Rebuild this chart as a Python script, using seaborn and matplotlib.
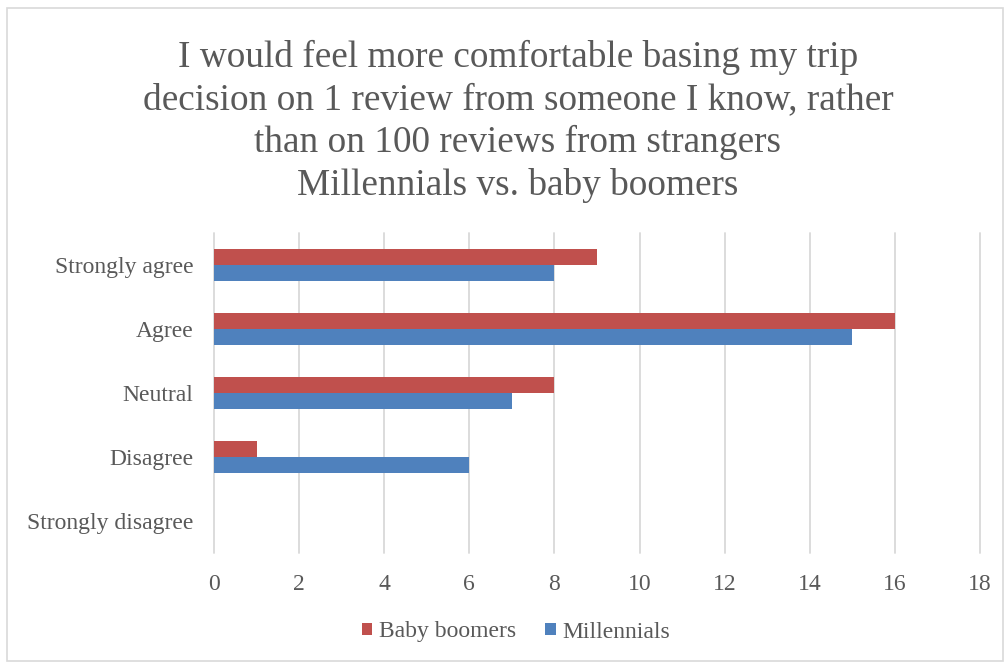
import matplotlib
matplotlib.use("Agg")
import matplotlib.pyplot as plt
import seaborn as sns
import pandas as pd
from matplotlib.patches import Rectangle, Patch

categories = ["Strongly agree", "Agree", "Neutral", "Disagree", "Strongly disagree"]
baby_boomers = [9, 16, 8, 1, 0]
millennials = [8, 15, 7, 6, 0]
series_names = ["Baby boomers", "Millennials"]
x_ticks = [0, 2, 4, 6, 8, 10, 12, 14, 16, 18]
title = ("I would feel more comfortable basing my trip\n"
         "decision on 1 review from someone I know, rather\n"
         "than on 100 reviews from strangers\n"
         "Millennials vs. baby boomers")

colors = {"Baby boomers": "#C0504D", "Millennials": "#4F81BD"}
text_color = "#595959"
grid_color = "#D9D9D9"

df = pd.DataFrame({
    "category": categories * 2,
    "series": [series_names[0]] * len(categories) + [series_names[1]] * len(categories),
    "value": baby_boomers + millennials,
})

sns.set_theme(style="white")
plt.rcParams["font.family"] = ["Liberation Serif", "DejaVu Serif"]

W, H = 1008, 664
fig = plt.figure(figsize=(W / 100, H / 100), dpi=100)

# outer chart border
fig.patches.append(Rectangle((7 / W, 1 - 661 / H), 996 / W, 653 / H,
                             transform=fig.transFigure, fill=False,
                             edgecolor="#D9D9D9", linewidth=1.2))

ax = fig.add_axes([214 / W, 1 - 553 / H, 766 / W, 320 / H])
sns.barplot(data=df, y="category", x="value", hue="series",
            hue_order=series_names, order=categories, palette=colors,
            orient="h", width=0.5, saturation=1, ax=ax, legend=False,
            edgecolor="none", linewidth=0, zorder=3)

ax.set_xlim(0, 18)
ax.set_ylim(len(categories) - 0.5, -0.5)
ax.set_xticks(x_ticks)
ax.set_xticklabels([str(t) for t in x_ticks])
ax.set_xlabel("")
ax.set_ylabel("")
for s in ax.spines.values():
    s.set_visible(False)
ax.grid(axis="x", color=grid_color, linewidth=1.3, zorder=0)
ax.grid(axis="y", visible=False)
ax.set_axisbelow(True)
for gl in ax.get_xgridlines():
    gl.set_clip_on(False)
ax.tick_params(axis="x", length=0, pad=15, labelsize=17, labelcolor=text_color)
ax.tick_params(axis="y", length=0, pad=15, labelsize=17, labelcolor=text_color)

fig.text(518 / W, 1 - 40 / H, title, ha="center", va="top",
         fontsize=26.8, color=text_color, linespacing=1.29)

handles = [Patch(facecolor=colors[n], edgecolor="none", label=n) for n in series_names]
fig.legend(handles=handles, loc="center", bbox_to_anchor=(516 / W, 1 - 632 / H),
           ncol=2, frameon=False, fontsize=17, labelcolor=text_color,
           handlelength=0.43, handleheight=0.43, handletextpad=0.3,
           columnspacing=1.25)

fig.savefig("out.png", dpi=100)
